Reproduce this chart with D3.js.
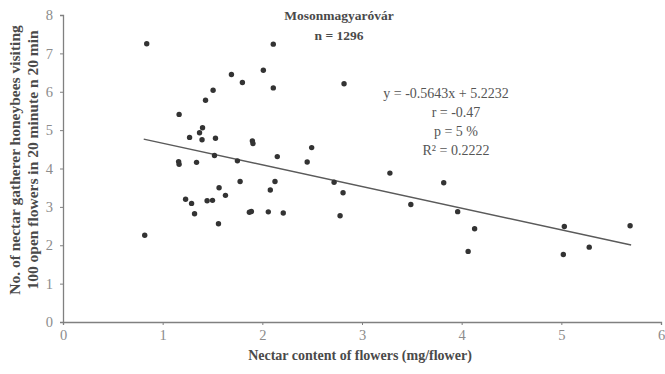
<!DOCTYPE html>
<html>
<head>
<meta charset="utf-8">
<script src="https://cdn.jsdelivr.net/npm/d3@7"></script>
<style>
  html, body { margin: 0; padding: 0; background: #fff; }
  svg { display: block; }
  text { font-family: "Liberation Serif", "DejaVu Serif", serif; }
</style>
</head>
<body>
<script>
// Nectar content (mg/flower) and honeybee visits per 100 open flowers in 20 min
const nectar = [0.84, 0.82, 1.165, 1.43, 1.506, 1.69, 1.80, 2.01, 2.11, 2.11,
  1.27, 1.40, 1.37, 1.395, 1.53, 1.90, 1.906, 1.16, 1.165, 1.34,
  1.52, 1.75, 2.15, 1.777, 1.566, 1.63, 2.127, 2.08, 1.23, 1.29,
  1.32, 1.446, 1.50, 1.56, 1.87, 1.89, 2.06, 2.21, 2.82, 2.495,
  2.45, 3.28, 2.72, 2.81, 2.78, 3.49, 3.82, 3.96, 4.13, 4.065,
  5.03, 5.02, 5.28, 5.69];
const visits = [7.25, 2.26, 5.41, 5.78, 6.04, 6.45, 6.24, 6.56, 7.24, 6.10,
  4.81, 5.06, 4.93, 4.75, 4.79, 4.72, 4.65, 4.18, 4.11, 4.16,
  4.34, 4.20, 4.31, 3.66, 3.50, 3.30, 3.66, 3.44, 3.20, 3.09,
  2.82, 3.16, 3.17, 2.56, 2.86, 2.88, 2.87, 2.84, 6.21, 4.545,
  4.17, 3.88, 3.64, 3.37, 2.77, 3.06, 3.63, 2.875, 2.43, 1.84,
  2.49, 1.76, 1.95, 2.51];

// Linear regression reported for the data set
const slope = -0.5643;
const intercept = 5.2232;
const fitRange = [0.81, 5.7];
const statsLines = ["y = -0.5643x  + 5.2232", "r = -0.47", "p = 5 %", "R² = 0.2222"];

const xTicks = [0, 1, 2, 3, 4, 5, 6];
const yTicks = [0, 1, 2, 3, 4, 5, 6, 7, 8];

const W = 665, H = 374;
const svg = d3.select("body").append("svg").attr("width", W).attr("height", H);

const x = d3.scaleLinear().domain([0, 6]).range([63, 661]);
const y = d3.scaleLinear().domain([0, 8]).range([322, 15]);

const axisColor = "#808080";
const labelColor = "#8c8c8c";
const textColor = "#4a4a4a";

// X axis
const gx = svg.append("g").attr("transform", `translate(0,${y(0)})`)
  .call(d3.axisBottom(x).tickValues(xTicks).tickSize(3).tickPadding(5).tickFormat(d3.format("d")));
gx.select(".domain").attr("stroke", axisColor).attr("stroke-width", 1.3);
gx.selectAll(".tick line").attr("stroke", axisColor);
gx.selectAll(".tick text").attr("fill", labelColor).style("font-size", "14.5px")
  .style("font-family", "Liberation Serif, serif");

// Y axis
const gy = svg.append("g").attr("transform", `translate(${x(0)},0)`)
  .call(d3.axisLeft(y).tickValues(yTicks).tickSize(3).tickPadding(7).tickFormat(d3.format("d")));
gy.select(".domain").attr("stroke", axisColor).attr("stroke-width", 1.3);
gy.selectAll(".tick line").attr("stroke", axisColor);
gy.selectAll(".tick text").attr("fill", labelColor).style("font-size", "14.5px")
  .style("font-family", "Liberation Serif, serif");

// Fitted line
svg.append("line")
  .attr("x1", x(fitRange[0])).attr("y1", y(slope * fitRange[0] + intercept))
  .attr("x2", x(fitRange[1])).attr("y2", y(slope * fitRange[1] + intercept))
  .attr("stroke", "#5a5a5a").attr("stroke-width", 1.4);

// Data points
svg.append("g").selectAll("circle")
  .data(d3.range(nectar.length))
  .join("circle")
  .attr("cx", i => x(nectar[i]))
  .attr("cy", i => y(visits[i]))
  .attr("r", 2.7)
  .attr("fill", "#333");

// Title
svg.append("text").attr("x", 339).attr("y", 20).attr("text-anchor", "middle")
  .attr("font-weight", "bold").attr("font-size", 13.5).attr("fill", textColor)
  .text("Mosonmagyaróvár");
svg.append("text").attr("x", 339).attr("y", 40).attr("text-anchor", "middle")
  .attr("font-weight", "bold").attr("font-size", 13.5).attr("fill", textColor)
  .text("n = 1296");

// Regression statistics (equation line is set slightly left of the others)
svg.append("g").selectAll("text")
  .data(statsLines)
  .join("text")
  .attr("x", (d, i) => i === 0 ? 446 : 456)
  .attr("y", (d, i) => 98 + i * 19)
  .attr("text-anchor", "middle")
  .attr("font-size", 14)
  .attr("fill", "#555")
  .text(d => d);

// Axis titles
svg.append("text").attr("x", 360).attr("y", 360).attr("text-anchor", "middle")
  .attr("font-weight", "bold").attr("font-size", 14).attr("fill", textColor)
  .text("Nectar content of flowers (mg/flower)");

const yTitle = svg.append("text")
  .attr("transform", "translate(0,160) rotate(-90)")
  .attr("text-anchor", "middle")
  .attr("font-weight", "bold").attr("font-size", 15.5).attr("fill", textColor);
yTitle.append("tspan").attr("x", 0).attr("y", 20).text("No. of nectar gatherer honeybees visiting");
yTitle.append("tspan").attr("x", 0).attr("y", 38).text("100 open flowers in 20 minute n 20 min");
</script>
</body>
</html>
